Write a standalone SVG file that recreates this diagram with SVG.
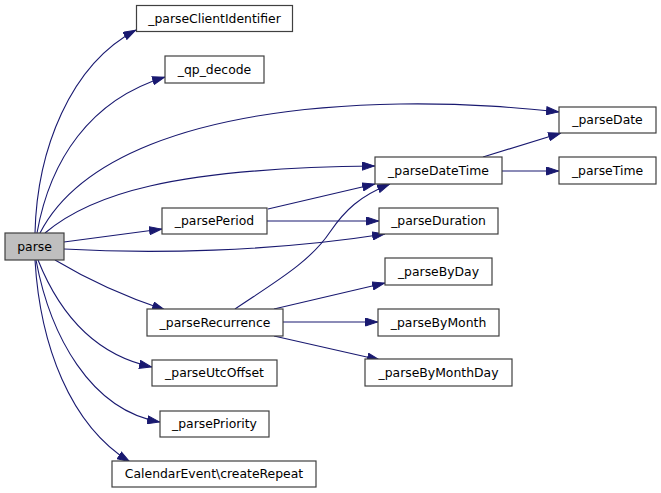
<svg xmlns="http://www.w3.org/2000/svg" width="661" height="493" viewBox="0 0 661 493">
<defs>
<marker id="ah" viewBox="0 0 13 9" refX="13" refY="4.5" markerWidth="13" markerHeight="9" markerUnits="userSpaceOnUse" orient="auto">
<path d="M0.5,0.5 L12.5,4.5 L0.5,8.5 z" fill="#191970" stroke="#191970" stroke-width="1"/>
</marker>
<style>
.n rect{fill:#ffffff;stroke:#404040;stroke-width:1.2}
.n text{font-family:"DejaVu Sans",sans-serif;font-size:12.4px;fill:#000000;text-anchor:middle}
#edges path{fill:none;stroke:#191970;stroke-width:1.1;marker-end:url(#ah)}
</style>
</defs>
<rect x="0" y="0" width="661" height="493" fill="#ffffff"/>
<g id="edges">
<path d="M35,233 C37,150 70,65 136,30"/>
<path d="M37,233 C50,160 90,100 165,77"/>
<path d="M40,233 C75,165 180,108 400,104 C470,103 520,108 559,112"/>
<path d="M45,233 C90,195 170,168 375,166"/>
<path d="M64,242 L162,229"/>
<path d="M64,249 C150,254 270,252 385,234"/>
<path d="M55,260 C80,275 120,295 165,310"/>
<path d="M38,260 C60,315 95,355 152,367"/>
<path d="M36,260 C50,335 90,410 160,422"/>
<path d="M35,260 C40,345 70,425 130,462"/>
<path d="M268,209 L375,184"/>
<path d="M267,221 L379,221"/>
<path d="M235,309 C275,282 310,262 330,232 C345,210 360,196 390,184"/>
<path d="M483,157 L561,133"/>
<path d="M502,171 L559,171"/>
<path d="M274,309 L385,283"/>
<path d="M283,322 L378,322"/>
<path d="M274,336 L380,360"/>
</g>
<g id="parse" class="n"><rect x="5" y="233" width="59" height="27" style="fill:#bfbfbf"/><text x="34.5" y="251">parse</text></g>
<g id="parseClientIdentifier" class="n"><rect x="136.5" y="5.5" width="156" height="26"/><text x="214.5" y="23">_parseClientIdentifier</text></g>
<g id="qp_decode" class="n"><rect x="165" y="56" width="99" height="27"/><text x="214.5" y="74">_qp_decode</text></g>
<g id="parsePeriod" class="n"><rect x="162" y="208" width="105" height="26"/><text x="214.5" y="225">_parsePeriod</text></g>
<g id="parseRecurrence" class="n"><rect x="147" y="309" width="136" height="27"/><text x="215" y="327">_parseRecurrence</text></g>
<g id="parseUtcOffset" class="n"><rect x="152" y="360" width="125" height="26"/><text x="214.5" y="377">_parseUtcOffset</text></g>
<g id="parsePriority" class="n"><rect x="160" y="411" width="109" height="26"/><text x="214.5" y="428">_parsePriority</text></g>
<g id="createRepeat" class="n"><rect x="112" y="461" width="204" height="26"/><text x="214" y="478">CalendarEvent\createRepeat</text></g>
<g id="parseDate" class="n"><rect x="559" y="107" width="97" height="26"/><text x="607.5" y="124">_parseDate</text></g>
<g id="parseDateTime" class="n"><rect x="375" y="157" width="127" height="27"/><text x="438.5" y="175">_parseDateTime</text></g>
<g id="parseTime" class="n"><rect x="559" y="157" width="97" height="27"/><text x="607.5" y="175">_parseTime</text></g>
<g id="parseDuration" class="n"><rect x="379" y="208" width="119" height="26"/><text x="438.5" y="225">_parseDuration</text></g>
<g id="parseByDay" class="n"><rect x="385" y="258" width="107" height="27"/><text x="438.5" y="276">_parseByDay</text></g>
<g id="parseByMonth" class="n"><rect x="378" y="309" width="121" height="27"/><text x="438.5" y="327">_parseByMonth</text></g>
<g id="parseByMonthDay" class="n"><rect x="365" y="359" width="147" height="27"/><text x="438.5" y="377">_parseByMonthDay</text></g>
</svg>
